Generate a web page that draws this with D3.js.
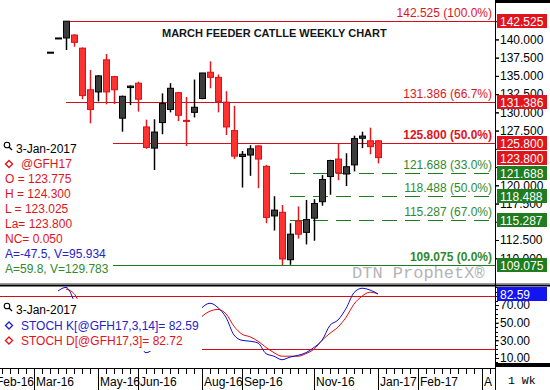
<!DOCTYPE html>
<html lang="en">
<head>
<meta charset="UTF-8">
<title>March Feeder Cattle Weekly Chart</title>
<style>
body { margin: 0; background: #fff; }
svg { display: block; font-family: "Liberation Sans", Arial, sans-serif; }
.mono { font-family: "Liberation Mono", "DejaVu Sans Mono", monospace; }
</style>
</head>
<body>
<svg id="chart" width="550" height="390"></svg>
<script src="https://cdnjs.cloudflare.com/ajax/libs/d3/7.8.5/d3.min.js"></script>
<script>
// weekly bars, @GFH17
var weeks = ["2016-03-21","2016-03-28","2016-04-04","2016-04-11","2016-04-18","2016-04-25",
  "2016-05-02","2016-05-09","2016-05-16","2016-05-23","2016-05-30","2016-06-06","2016-06-13",
  "2016-06-20","2016-06-27","2016-07-04","2016-07-11","2016-07-18","2016-07-25","2016-08-01",
  "2016-08-08","2016-08-15","2016-08-22","2016-08-29","2016-09-05","2016-09-12","2016-09-19",
  "2016-09-26","2016-10-03","2016-10-10","2016-10-17","2016-10-24","2016-10-31","2016-11-07",
  "2016-11-14","2016-11-21","2016-11-28","2016-12-05","2016-12-12","2016-12-19","2016-12-26",
  "2017-01-02"];
var open  = [138.25,140.2,140.2,140.6,138.8,133.1,132.8,137.2,134.9,129.2,133.4,134.0,128.0,125.1,
  128.6,130.4,132.7,128.9,130.0,131.9,135.5,134.8,131.4,127.5,123.95,124.15,125.4,122.6,115.8,116.3,
  109.8,115.1,113.55,115.5,117.75,121.2,123.6,121.55,122.8,126.45,126.1,126.1];
var high  = [138.25,140.2,142.525,140.7,138.9,135.8,135.1,138.0,135.0,132.3,133.7,134.2,129.0,129.05,
  132.6,134.0,132.8,132.1,134.5,135.4,137.0,135.2,132.9,130.9,124.7,125.5,125.5,122.8,118.5,117.3,
  114.8,117.1,118.0,118.1,121.4,123.5,125.8,124.4,126.8,127.35,127.9,126.2];
var low   = [138.25,140.2,138.55,139.0,131.8,128.5,131.5,131.1,131.15,127.35,131.0,130.1,125.0,122.1,
  127.0,130.0,128.8,125.4,129.3,131.8,133.3,130.0,126.9,123.6,119.7,121.3,119.6,114.8,113.8,109.075,
  109.1,112.7,111.9,112.4,117.2,118.7,120.7,119.9,121.9,125.1,124.25,123.0];
var close = [138.25,140.2,142.5,139.6,132.3,130.4,135.0,132.8,133.1,132.2,133.6,131.8,125.2,127.3,
  131.2,133.3,129.6,128.8,130.7,135.4,134.8,131.5,128.0,124.0,124.25,125.0,123.6,115.6,116.6,109.9,
  113.3,113.3,115.3,117.5,120.8,123.4,121.7,122.55,126.4,126.75,125.3,123.8];

var stochK = [null,86,90,74,40,25,55,40,42,35,45,30,16,22,45,60,45,38,55,67,72,67,56,36,30,29,27,
  15,12,8,11,13,16,22,30,47,53,66,84,89,87,82.59];
var stochD = [null,null,88,83,66,48,40,40,46,39,41,37,30,23,28,42,50,48,46,57,63,65,60,46,37,34,
  29,22,16,12,12,12,15,20,30,38,45,56,71,80,84.5,82.72];

var redLevels = [142.525, 131.386, 125.8];
var redLabels = ["142.525 (100.0%)", "131.386 (66.7%)", "125.800 (50.0%)"];
var greenLevels = [121.688, 118.488, 115.287];
var greenLabels = ["121.688 (33.0%)", "118.488 (50.0%)", "115.287 (67.0%)"];
var lowLevel = 109.075;
var lowLabel = "109.075 (0.0%)";
var lastPrice = 123.8;

var priceTicks = d3.range(110, 142.6, 2.5);
// labels that are not fully covered by the value boxes
var priceLabels = [110, 112.5, 117.5, 120, 127.5, 130, 132.5, 135, 137.5, 140];
var stochTicks = [10, 30, 50, 70];
var monthDates = ["2016-02-01","2016-03-07","2016-05-02","2016-06-06","2016-08-01","2016-09-05",
  "2016-11-07","2017-01-02","2017-02-06","2017-04-03"];
var monthLabels = ["Feb-16","Mar-16","May-16","Jun-16","Aug-16","Sep-16","Nov-16","Jan-17","Feb-17","A"];

var infoMain = [
  {t: "O = 123.775", c: "#e0141c"}, {t: "H = 124.300", c: "#e0141c"},
  {t: "L = 123.025", c: "#e0141c"}, {t: "La= 123.800", c: "#e0141c"},
  {t: "NC= 0.050", c: "#e0141c"}, {t: "A=-47.5, V=95.934", c: "#2424c8"},
  {t: "A=59.8, V=129.783", c: "#2e8a2e"}];

var RED = "#e0141c", GREEN = "#1f7d1f", DKGREEN = "#2e8a2e";
var axisX = 495;

var svg = d3.select("#chart");

var x = d3.scaleUtc()
  .domain([new Date("2016-03-21"), new Date("2017-01-02")])
  .range([50, 378]);
var y = d3.scaleLinear().domain([lowLevel, 142.525]).range([265, 21]);
var ys = d3.scaleLinear().domain([0, 80]).range([366.8, 296.2]);

svg.append("defs").append("clipPath").attr("id", "clipMain")
  .append("rect").attr("x", 0).attr("y", 0).attr("width", axisX).attr("height", 283);
svg.select("defs").append("clipPath").attr("id", "clipLow")
  .append("rect").attr("x", 0).attr("y", 286).attr("width", axisX).attr("height", 80);

var main = svg.append("g").attr("clip-path", "url(#clipMain)");

// fib lines
var x0 = x(new Date(weeks[2]));
main.selectAll(".redline").data(redLevels).enter().append("line")
  .attr("x1", x0).attr("x2", axisX)
  .attr("y1", function(d) { return Math.round(y(d)) + 0.5; })
  .attr("y2", function(d) { return Math.round(y(d)) + 0.5; })
  .attr("stroke", "#d01018").attr("stroke-width", 1);
main.append("line")
  .attr("x1", x0).attr("x2", axisX)
  .attr("y1", Math.round(y(lowLevel)) + 0.5).attr("y2", Math.round(y(lowLevel)) + 0.5)
  .attr("stroke", GREEN);
var xg = x(new Date(weeks[30]));
main.selectAll(".greenline").data(greenLevels).enter().append("line")
  .attr("x1", xg).attr("x2", axisX)
  .attr("y1", function(d) { return Math.round(y(d)) + 0.5; })
  .attr("y2", function(d) { return Math.round(y(d)) + 0.5; })
  .attr("stroke", GREEN).attr("stroke-dasharray", "15,8");

// candles
var bar = main.selectAll(".bar").data(weeks).enter().append("g")
  .attr("transform", function(d) { return "translate(" + Math.round(x(new Date(d))) + ",0)"; });
bar.append("line")
  .attr("x1", 0.5).attr("x2", 0.5)
  .attr("y1", function(d, i) { return y(high[i]); })
  .attr("y2", function(d, i) { return y(low[i]); })
  .attr("stroke", function(d, i) { return close[i] < open[i] ? "#e01820" : "#000"; })
  .attr("stroke-width", 1.5);
bar.append("rect")
  .attr("x", -2.5).attr("width", 6)
  .attr("y", function(d, i) { return y(Math.max(open[i], close[i])); })
  .attr("height", function(d, i) { return Math.max(1, Math.abs(y(open[i]) - y(close[i]))); })
  .attr("fill", function(d, i) { return close[i] < open[i] ? "#ff3232" : "#3c3c3c"; })
  .attr("stroke", function(d, i) { return close[i] < open[i] ? "#d8101a" : "#000"; })
  .attr("stroke-width", 1);

// fib texts
svg.selectAll(".rlab").data(redLabels).enter().append("text")
  .attr("x", 492).attr("y", function(d, i) { return y(redLevels[i]) - 4; })
  .attr("text-anchor", "end").attr("font-size", 12).attr("fill", RED)
  .attr("font-weight", function(d, i) { return i == 2 ? "bold" : "normal"; })
  .text(function(d) { return d; });
svg.selectAll(".glab").data(greenLabels).enter().append("text")
  .attr("x", 492).attr("y", function(d, i) { return y(greenLevels[i]) - 4; })
  .attr("text-anchor", "end").attr("font-size", 12).attr("fill", DKGREEN)
  .text(function(d) { return d; });
svg.append("text").attr("x", 492).attr("y", y(lowLevel) - 4)
  .attr("text-anchor", "end").attr("font-size", 12).attr("font-weight", "bold")
  .attr("fill", DKGREEN).text(lowLabel);

svg.append("text").attr("x", 162).attr("y", 37)
  .attr("font-size", 11).attr("font-weight", "bold").attr("fill", "#151515")
  .text("MARCH FEEDER CATLLE WEEKLY CHART");

svg.append("text").attr("class", "mono").attr("x", 352).attr("y", 278)
  .attr("font-size", 17).attr("fill", "#b4b4b4").text("DTN ProphetX\u00ae");

// lower panel: stochastics
var low2 = svg.append("g").attr("clip-path", "url(#clipLow)");
[80, 20].forEach(function(v) {
  low2.append("line").attr("x1", 0).attr("x2", axisX)
    .attr("y1", Math.round(ys(v)) + 0.5).attr("y2", Math.round(ys(v)) + 0.5)
    .attr("stroke", "#d01018");
});
function stochLine(vals) {
  return d3.line()
    .defined(function(d) { return d != null; })
    .x(function(d, i) { return x(new Date(weeks[i])); })
    .y(function(d) { return ys(d); })
    .curve(d3.curveMonotoneX)(vals);
}
low2.append("path").attr("d", stochLine(stochD)).attr("fill", "none").attr("stroke", "#e01010");
low2.append("path").attr("d", stochLine(stochK)).attr("fill", "none").attr("stroke", "#1010d0");

// legend boxes (opaque, like the platform draws them)
svg.append("rect").attr("x", 0).attr("y", 139).attr("width", 113).attr("height", 137).attr("fill", "#fff");
svg.append("rect").attr("x", 0).attr("y", 299).attr("width", 202).attr("height", 52).attr("fill", "#fff");

function magnifier(cx, cy) {
  svg.append("circle").attr("cx", cx).attr("cy", cy).attr("r", 2.8)
    .attr("fill", "none").attr("stroke", "#000").attr("stroke-width", 1.1);
  svg.append("line").attr("x1", cx + 2).attr("y1", cy + 2).attr("x2", cx + 5).attr("y2", cy + 5)
    .attr("stroke", "#000").attr("stroke-width", 1.3);
}
function diamond(cx, cy, col) {
  svg.append("path")
    .attr("d", "M" + cx + "," + (cy - 3.5) + "L" + (cx + 3.5) + "," + cy + "L" + cx + "," + (cy + 3.5) + "L" + (cx - 3.5) + "," + cy + "Z")
    .attr("fill", "none").attr("stroke", col).attr("stroke-width", 1.4);
}

magnifier(7, 145);
svg.append("text").attr("x", 16).attr("y", 153).attr("font-size", 12).attr("fill", "#000").text("3-Jan-2017");
diamond(9, 164, RED);
svg.append("text").attr("x", 21).attr("y", 168).attr("font-size", 12).attr("fill", RED).text("@GFH17");
svg.selectAll(".info").data(infoMain).enter().append("text")
  .attr("x", 5).attr("y", function(d, i) { return 183 + i * 15; })
  .attr("font-size", 12).attr("fill", function(d) { return d.c; })
  .text(function(d) { return d.t; });

magnifier(7, 306);
svg.append("text").attr("x", 16).attr("y", 314).attr("font-size", 12).attr("fill", "#000").text("3-Jan-2017");
diamond(9, 325.5, "#2424c8");
svg.append("text").attr("x", 21).attr("y", 330).attr("font-size", 12).attr("fill", "#2424c8")
  .text("STOCH K[@GFH17,3,14]= 82.59");
diamond(9, 340.5, RED);
svg.append("text").attr("x", 21).attr("y", 345).attr("font-size", 12).attr("fill", RED)
  .text("STOCH D[@GFH17,3]= 82.72");

// panel separators
svg.append("line").attr("x1", 0).attr("x2", 550).attr("y1", 283.5).attr("y2", 283.5).attr("stroke", "#9a9a9a");
svg.append("line").attr("x1", 0).attr("x2", 550).attr("y1", 285.5).attr("y2", 285.5).attr("stroke", "#000").attr("stroke-width", 2);

// right axes: tick marks for every level, labels where they show
var ya = svg.append("g").attr("transform", "translate(" + axisX + ",0)")
  .call(d3.axisRight(y).tickValues(priceTicks).tickFormat("").tickSize(4).tickSizeOuter(0));
ya.select(".domain").remove();
var yl = svg.append("g").attr("transform", "translate(" + axisX + ",0)")
  .call(d3.axisRight(y).tickValues(priceLabels).tickFormat(d3.format(".3f"))
    .tickSize(4).tickPadding(1).tickSizeOuter(0));
yl.select(".domain").remove();
yl.selectAll("text").attr("font-size", 12).attr("font-family", "Liberation Sans, Arial, sans-serif").attr("fill", "#000");

var sa = svg.append("g").attr("transform", "translate(" + axisX + ",0)")
  .call(d3.axisRight(ys).tickValues(stochTicks).tickFormat(d3.format(".2f"))
    .tickSize(4).tickPadding(1).tickSizeOuter(0));
sa.select(".domain").remove();
sa.selectAll("text").attr("font-size", 12).attr("font-family", "Liberation Sans, Arial, sans-serif").attr("fill", "#000");
sa.selectAll(".minor").data(d3.range(5, 95, 5)).enter().append("line")
  .attr("x1", 0).attr("x2", 3)
  .attr("y1", function(d) { return Math.round(ys(d)) + 0.5; })
  .attr("y2", function(d) { return Math.round(ys(d)) + 0.5; })
  .attr("stroke", "#000");

// value boxes on the axis
var boxes = redLevels.map(function(v) { return {v: v, c: RED}; })
  .concat([{v: lastPrice, c: RED}])
  .concat(greenLevels.map(function(v) { return {v: v, c: GREEN}; }))
  .concat([{v: lowLevel, c: GREEN}]);
var bx = svg.selectAll(".box").data(boxes).enter().append("g")
  .attr("transform", function(d) { return "translate(497," + Math.round(y(d.v) - 7) + ")"; });
bx.append("rect").attr("width", 50).attr("height", 14).attr("fill", function(d) { return d.c; });
bx.append("text").attr("x", 3).attr("y", 11.5).attr("font-size", 12).attr("fill", "#fff")
  .text(function(d) { return d3.format(".3f")(d.v); });

var kb = svg.append("g").attr("transform", "translate(497," + Math.round(ys(82.59) - 7) + ")");
kb.append("rect").attr("width", 50).attr("height", 14).attr("fill", "#1414f0");
kb.append("text").attr("x", 3).attr("y", 11.5).attr("font-size", 12).attr("fill", "#fff").text("82.59");

svg.append("line").attr("x1", axisX + 0.5).attr("x2", axisX + 0.5).attr("y1", 0).attr("y2", 390).attr("stroke", "#000");
svg.append("rect").attr("x", axisX).attr("y", 0).attr("width", 55).attr("height", 3).attr("fill", "#000");
svg.append("rect").attr("x", axisX).attr("y", 363).attr("width", 55).attr("height", 4).attr("fill", "#000");

// time axis
svg.append("line").attr("x1", 0).attr("x2", axisX).attr("y1", 368.5).attr("y2", 368.5).attr("stroke", "#000");
var weekTicks = d3.utcMonday.range(new Date("2016-01-25"), new Date("2017-04-24"))
  .filter(function(d) { return x(d) >= 0 && x(d) < axisX; });
svg.selectAll(".wt").data(weekTicks).enter().append("line")
  .attr("x1", function(d) { return Math.round(x(d)) + 0.5; })
  .attr("x2", function(d) { return Math.round(x(d)) + 0.5; })
  .attr("y1", 368).attr("y2", 374).attr("stroke", "#000");
var mt = svg.selectAll(".mt").data(monthDates).enter().append("g")
  .attr("transform", function(d) { return "translate(" + Math.round(x(new Date(d))) + ",0)"; });
mt.append("line").attr("x1", 0.5).attr("x2", 0.5).attr("y1", 368).attr("y2", 390).attr("stroke", "#000");
mt.append("text").attr("x", 2).attr("y", 386).attr("font-size", 12).attr("fill", "#000")
  .text(function(d, i) { return monthLabels[i]; });

svg.append("text").attr("class", "mono").attr("x", 508).attr("y", 384)
  .attr("font-size", 11.5).attr("fill", "#000").text("1 Wk");
</script>
</body>
</html>
